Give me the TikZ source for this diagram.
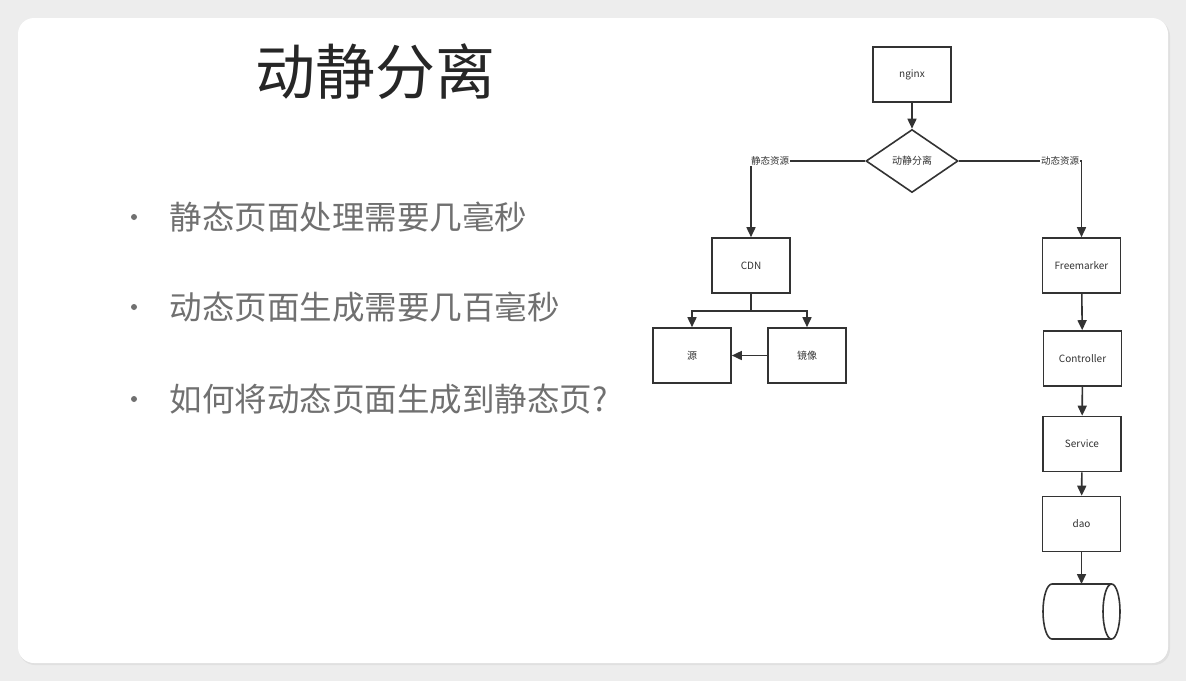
\documentclass[tikz,border=0pt]{standalone}
\usepackage{fontspec}
\setmainfont{Noto Sans CJK SC}
\usetikzlibrary{shapes.geometric,arrows.meta}
\definecolor{bg}{HTML}{EDEDED}
\definecolor{bul}{HTML}{707070}
\definecolor{ln}{HTML}{333333}
\begin{document}
\begin{tikzpicture}[x=1pt,y=-1pt,
  bx/.style={draw=ln,line width=1.6pt,minimum width=78pt,minimum height=55pt,inner sep=0pt,font=\fontsize{10}{11}\selectfont,text=ln},
  ar/.style={draw=ln,line width=1.6pt,-{Triangle[length=10pt,width=9pt]}},
  lbl/.style={fill=white,inner sep=1pt,font=\fontsize{9.5}{10}\selectfont,text=ln},
  bt/.style={anchor=west,font=\fontsize{32.5}{36}\selectfont,text=bul}]
\useasboundingbox (0,0) rectangle (1186,681);
\fill[bg] (0,0) rectangle (1186,681);
\fill[black!12,rounded corners=16pt] (19,20) rectangle (1170,665);
\fill[white,rounded corners=16pt] (18,18) rectangle (1168,663);
\node[font=\fontsize{60}{64}\selectfont,text=black!85] (title) at (375,72) {动静分离};
\foreach \y/\t [count=\i] in {217/静态页面处理需要几毫秒,307/动态页面生成需要几百毫秒,399/如何将动态页面生成到静态页?}{
  \fill[bul] (134,\y) circle (3pt);
  \node[bt] (t\i) at (166,\y) {\t};
}
\node[bx] (nginx) at (912,74.5) {nginx};
\node[draw=ln,line width=1.6pt,diamond,aspect=1.46,minimum width=92pt,minimum height=63pt,inner sep=0pt,font=\fontsize{10}{11}\selectfont,text=ln] (d) at (912,161) {动静分离};
\node[bx] (cdn) at (751,265.5) {CDN};
\node[bx] (src) at (692,355.5) {源};
\node[bx] (mir) at (807,355.5) {镜像};
\node[bx] (fm) at (1081.5,265.5) {Freemarker};
\node[bx] (ct) at (1082.5,358.5) {Controller};
\node[bx] (sv) at (1082,444) {Service};
\node[bx] (dao) at (1081.5,524) {dao};
\draw[ar] (nginx) -- (d);
\coordinate (cl) at (751,161);
\coordinate (cr) at (1081.5,161);
\draw[ar] (d.west) -- (cl) -- (cdn);
\draw[ar] (d.east) -- (cr) -- (fm);
\node[lbl] (ls) at (770,161) {静态资源};
\node[lbl] (ld) at (1060,161) {动态资源};
\coordinate (sp) at (751,311);
\draw[ar] (cdn) -- (sp) -| (src.north);
\draw[ar] (sp) -| (mir.north);
\draw[ar] (mir) -- (src);
\draw[ar] (fm) -- (ct);
\draw[ar] (ct) -- (sv);
\draw[ar] (sv) -- (dao);
\coordinate (cy) at (1081.5,584);
\draw[ar] (dao) -- (cy);
\draw[ln,line width=1.6pt,fill=white] (1111.5,584) -- (1052,584) arc[start angle=90,end angle=270,x radius=9pt,y radius=27.5pt] -- (1111.5,639);
\draw[ln,line width=1.6pt,fill=white] (1111.5,611.5) ellipse[x radius=8.5pt,y radius=27.5pt];
\end{tikzpicture}
\end{document}
